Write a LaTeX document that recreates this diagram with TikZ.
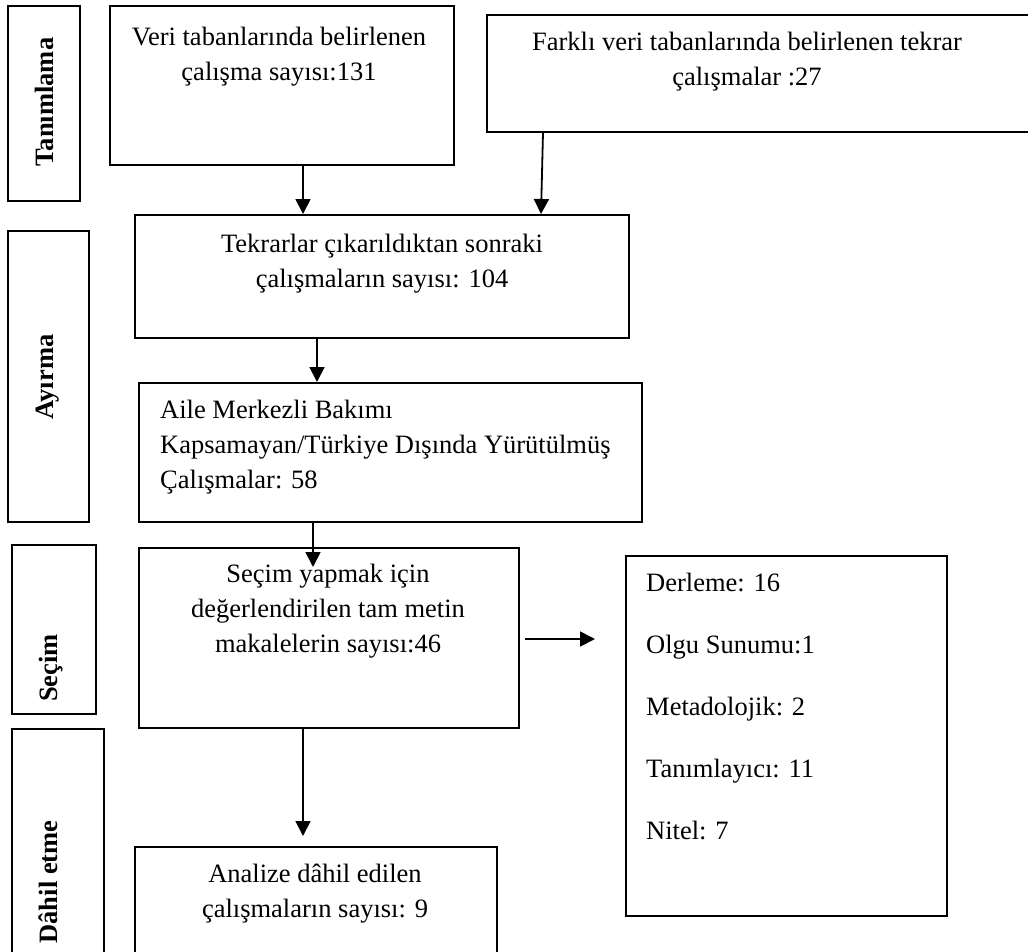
\documentclass[tikz,border=0pt]{standalone}
\usepackage{fontspec}
\setmainfont{Liberation Serif}
\usetikzlibrary{arrows.meta,calc}
\begin{document}
\begin{tikzpicture}[x=1pt,y=-1pt,
  box/.style={draw,line width=1.8pt,inner sep=0pt,anchor=north west},
  txt/.style={inner sep=0pt,font=\fontsize{26.5}{35}\selectfont,align=center,anchor=base},
  ltxt/.style={inner sep=0pt,font=\fontsize{26.5}{35}\selectfont,align=left,anchor=base west},
  rot/.style={inner sep=0pt,font=\fontsize{26.5}{35}\selectfont\bfseries,rotate=90,anchor=base},
  arr/.style={line width=1.8pt,-{Triangle[width=15pt,length=15pt]}}]
\useasboundingbox (0,0) rectangle (1028,951);
\fill[white] (0,0) rectangle (1028,951);
\clip (0,0) rectangle (1028,951);
% left stage labels
\node[box,minimum width=72pt,minimum height=195pt] (tanb) at (7,5) {};
\node[box,minimum width=81pt,minimum height=291pt] (ayib) at (7,230) {};
\node[box,minimum width=84pt,minimum height=169pt] (seclb) at (11,544) {};
\node[box,minimum width=92pt,minimum height=232pt] (dahb) at (11,728) {};
\node[rot] (tant) at (53,102) {Tanımlama};
\node[rot] (ayit) at (53,377) {Ayırma};
\node[rot] (seclt) at (57,668) {Seçim};
\node[rot] (daht) at (57,882) {Dâhil etme};
% main boxes
\node[box,minimum width=344pt,minimum height=159pt] (b1) at (109,5) {};
\node[box,minimum width=554pt,minimum height=117pt] (far) at (486,14) {};
\node[box,minimum width=494pt,minimum height=123pt] (tek) at (134,214) {};
\node[box,minimum width=503pt,minimum height=139pt] (aile) at (138,382) {};
\node[box,minimum width=380pt,minimum height=180pt] (secb) at (138,547) {};
\node[box,minimum width=362pt,minimum height=114pt] (ana) at (134,846) {};
\node[box,minimum width=321pt,minimum height=360pt] (res) at (625,555) {};
% texts (anchor = baseline of last line)
\node[txt] (t1) at (279,80) {Veri tabanlarında belirlenen\\çalışma sayısı:131};
\node[txt] (t2) at (747,85) {Farklı veri tabanlarında belirlenen tekrar\\çalışmalar :27};
\node[txt] (t3) at (382,287) {Tekrarlar çıkarıldıktan sonraki\\çalışmaların sayısı: 104};
\node[ltxt] (t4) at (160,488) {Aile Merkezli Bakımı\\Kapsamayan/Türkiye Dışında Yürütülmüş\\Çalışmalar: 58};
\node[txt] (t5) at (328,652) {Seçim yapmak için\\değerlendirilen tam metin\\makalelerin sayısı:46};
\node[txt] (t6) at (315,917) {Analize dâhil edilen\\çalışmaların sayısı: 9};
\node[ltxt,font=\fontsize{26.5}{62}\selectfont] (t7) at (646,839) {Derleme: 16\\Olgu Sunumu:1\\Metadolojik: 2\\Tanımlayıcı: 11\\Nitel: 7};
% arrow x positions
\coordinate (xa) at (303,0);
\coordinate (xb) at (543,0);
\coordinate (xc) at (541,0);
\coordinate (xd) at (317,0);
\coordinate (xe) at (313,0);
\coordinate (yr) at (0,639);
\draw[arr] (b1.south -| xa) -- (tek.north -| xa);
\draw[arr] (far.south -| xb) -- (tek.north -| xc);
\draw[arr] (tek.south -| xd) -- (aile.north -| xd);
\draw[arr] (aile.south -| xe) -- ($(secb.north -| xe)+(0,20)$);
\draw[arr] (secb.south -| xa) -- ($(ana.north -| xa)+(0,-10)$);
\draw[arr] ($(secb.east |- yr)+(5,0)$) -- ($(res.west |- yr)+(-30,0)$);
\end{tikzpicture}
\end{document}
